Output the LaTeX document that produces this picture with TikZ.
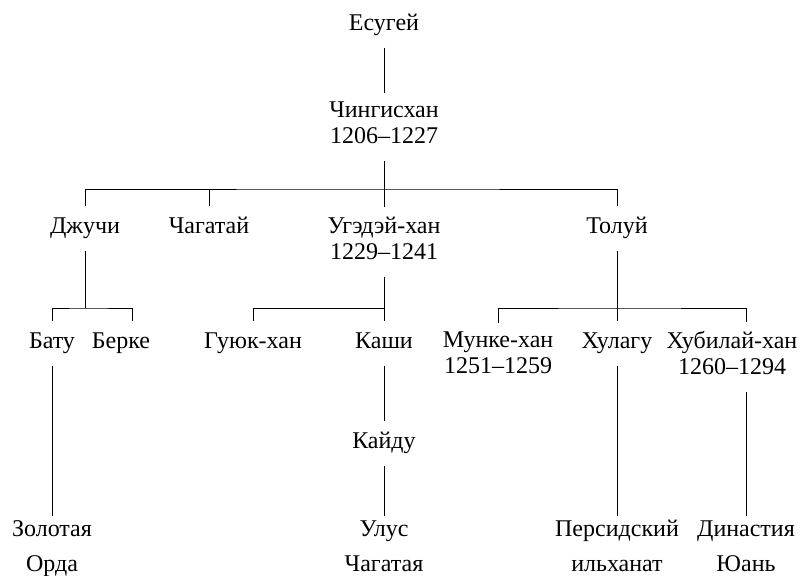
\documentclass[tikz,border=0pt]{standalone}
\usepackage{fontspec}
\setmainfont{Liberation Serif}
\usepackage{tikz}

\begin{document}
\begin{tikzpicture}[x=0.5pt,y=-0.5pt,line width=0.5pt,
  person/.style={align=center,inner xsep=2pt,inner ysep=4.5pt,font=\fontsize{12}{13}\selectfont,
    execute at begin node=\strut,execute at end node=\strut},
  realm/.style={person,inner ysep=2pt,font=\fontsize{12}{17.5}\selectfont}]
\useasboundingbox (0,0) rectangle (800,575);
\node[person] (esugei) at (384,25){Есугей};
\node[person] (chingis) at (384,127){Чингисхан\\1206–1227};
\node[person] (jochi) at (85,228){Джучи};
\node[person] (chagatai) at (209,228){Чагатай};
\node[person] (ogedei) at (384,242){Угэдэй-хан\\1229–1241};
\node[person] (tolui) at (617,228){Толуй};
\node[person] (batu) at (52,343){Бату};
\node[person] (berke) at (121,343){Берке};
\node[person] (guyuk) at (253,343){Гуюк-хан};
\node[person] (kashi) at (384,343){Каши};
\node[person] (mongke) at (498,357){Мунке-хан\\1251–1259};
\node[person] (hulagu) at (617,343){Хулагу};
\node[person] (kublai) at (732,357){Хубилай-хан\\1260–1294};
\node[person] (kaidu) at (384,443){Кайду};
\node[realm] (horde) at (52,551){Золотая\\Орда};
\node[realm] (ulus) at (384,551){Улус\\Чагатая};
\node[realm] (ilkhan) at (617,551){Персидский\\ильханат};
\node[realm] (yuan) at (746,551){Династия\\Юань};
\coordinate (b1) at (384,189);
\coordinate (b2) at (85,308);
\coordinate (b3) at (384,308);
\coordinate (b4) at (617,308);
\draw (esugei) -- (chingis);
\draw (chingis) -- (ogedei);
\draw (jochi) |- (b1) -| (tolui);
\draw (chagatai) -- (chagatai |- b1);
\draw (jochi) -- (b2);
\draw (batu) |- (b2) -| ([xshift=5.5pt]berke.north);
\draw (ogedei) -- (kashi);
\draw (guyuk) |- (b3);
\draw (tolui) -- (hulagu);
\draw (mongke) |- (b4) -| ([xshift=7pt]kublai.north);
\draw (batu) -- (horde);
\draw (kashi) -- (kaidu) -- (ulus);
\draw (hulagu) -- (ilkhan);
\draw ([xshift=7pt]kublai.south) -- (yuan);
\end{tikzpicture}
\end{document}
